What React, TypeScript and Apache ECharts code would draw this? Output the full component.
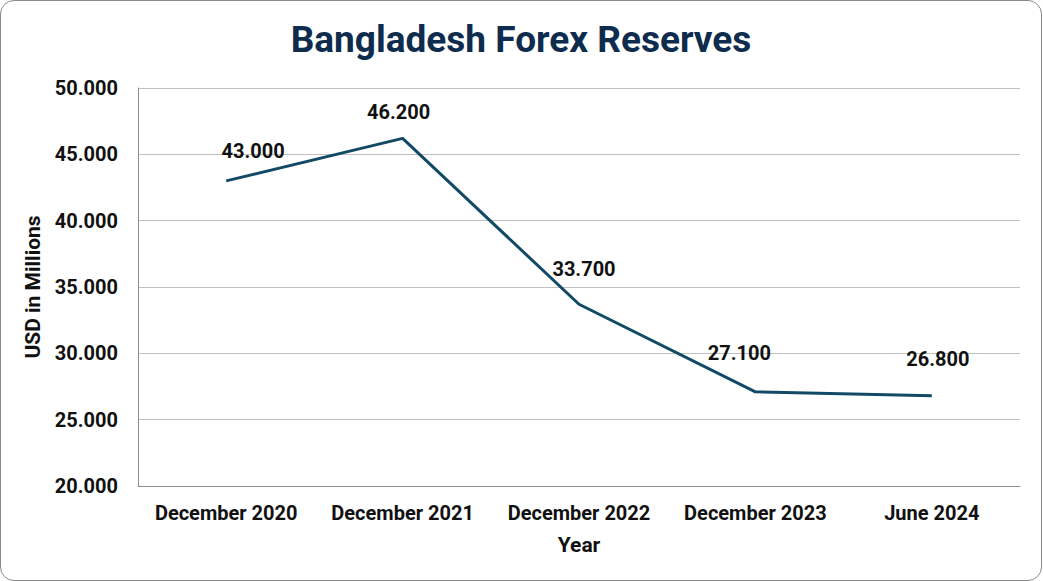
import React, { useEffect, useRef } from "react";
import * as echarts from "echarts";

const categories = ["December 2020", "December 2021", "December 2022", "December 2023", "June 2024"];
const reserves = [43000, 46200, 33700, 27100, 26800];
const labelOffsets = [[27, -30], [-4, -26], [5, -35], [-16, -39], [6, -37]];
const yTicks = { min: 20000, max: 50000, interval: 5000 };

const fmt = (v: number) => {
  const s = Math.round(v).toString();
  return s.replace(/\B(?=(\d{3})+(?!\d))/g, ".");
};

export default function App() {
  const ref = useRef<HTMLDivElement>(null);
  useEffect(() => {
    const chart = echarts.init(ref.current!, null, { renderer: "svg" });
    const font = "Roboto, 'DejaVu Sans', sans-serif";
    chart.setOption({
      animation: false,
      backgroundColor: "transparent",
      title: {
        text: "Bangladesh Forex Reserves",
        left: "center",
        top: 15,
        textStyle: { fontFamily: font, fontWeight: "bold", fontSize: 37, color: "#0d2c4e" },
      },
      grid: { left: 137, right: 21, top: 87, bottom: 94 },
      xAxis: {
        type: "category",
        data: categories,
        boundaryGap: true,
        name: "Year",
        nameLocation: "middle",
        nameGap: 48,
        nameTextStyle: { fontFamily: font, fontWeight: "bold", fontSize: 21, color: "#111" },
        axisLine: { lineStyle: { color: "#8c8c8c", width: 1 } },
        axisTick: { show: false },
        axisLabel: { interval: 0, hideOverlap: false, fontFamily: font, fontWeight: "bold", fontSize: 20, color: "#111", margin: 17 },
      },
      yAxis: {
        type: "value",
        min: yTicks.min,
        max: yTicks.max,
        interval: yTicks.interval,
        name: "USD in Millions",
        nameLocation: "middle",
        nameGap: 89,
        nameTextStyle: { fontFamily: font, fontWeight: "bold", fontSize: 21, color: "#111" },
        axisLine: { show: true, lineStyle: { color: "#8c8c8c", width: 1 } },
        axisTick: { show: false },
        splitLine: { lineStyle: { color: "#c0c0c0", width: 1 } },
        axisLabel: {
          fontFamily: font, fontWeight: "bold", fontSize: 20, color: "#111", margin: 20,
          formatter: (v: number) => fmt(v),
        },
      },
      series: [
        {
          type: "line",
          data: reserves.map((v, i) => ({
            value: v,
            label: { offset: labelOffsets[i] },
          })),
          symbol: "circle",
          symbolSize: 0,
          showSymbol: true,
          lineStyle: { color: "#124a66", width: 3 },
          itemStyle: { color: "#124a66" },
          label: {
            show: true,
            position: "inside",
            fontFamily: font,
            fontWeight: "bold",
            fontSize: 20,
            color: "#111",
            formatter: (p: any) => fmt(p.value),
          },
        },
      ],
    });
    return () => chart.dispose();
  }, []);
  return (
    <div
      style={{
        position: "fixed",
        left: 0,
        top: 0,
        width: 1042,
        height: 581,
        boxSizing: "border-box",
        border: "1px solid #8a8a8a",
        borderRadius: 14,
        background: "#fff",
        overflow: "hidden",
      }}
    >
      <div ref={ref} style={{ width: 1040, height: 579 }} />
    </div>
  );
}
